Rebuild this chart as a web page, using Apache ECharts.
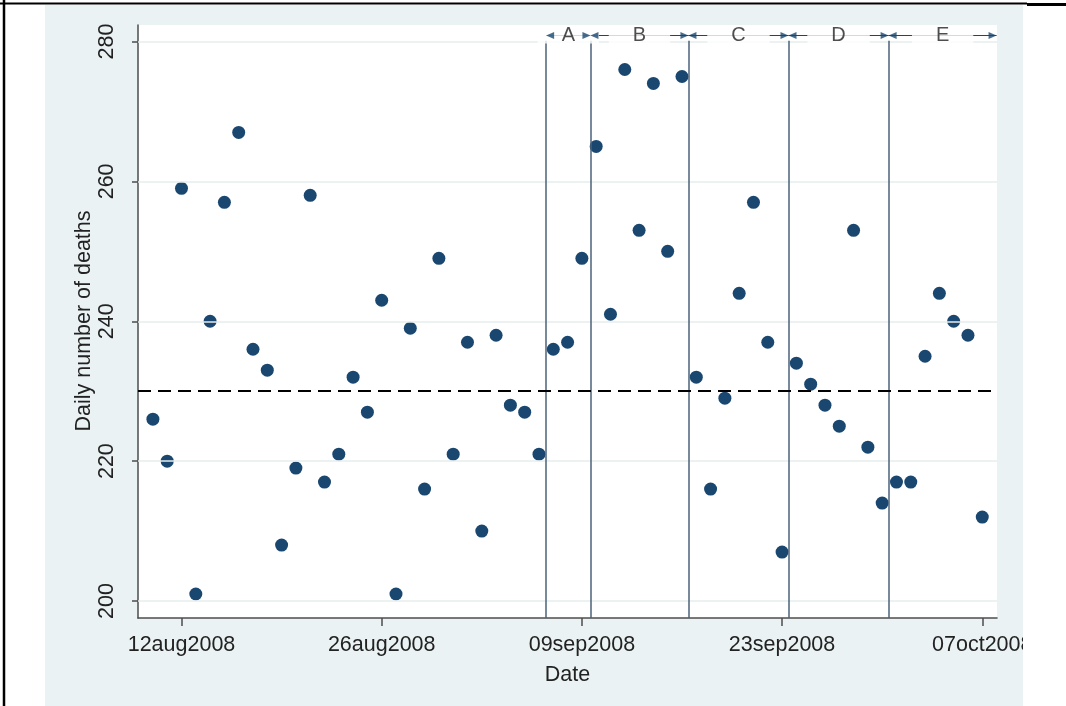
<!DOCTYPE html>
<html>
<head>
<meta charset="utf-8">
<script src="https://cdn.jsdelivr.net/npm/echarts@6/dist/echarts.min.js"></script>
<style>
  html, body { margin: 0; padding: 0; background: #fff; }
  #chart { width: 1066px; height: 706px; }
</style>
</head>
<body>
<div id="chart"></div>
<script>
// Daily number of deaths, one value per day from 10aug2008 to 07oct2008.
// x is measured in days from 12aug2008.
const firstDay = -2;
const deaths = [
  226, 220, 259, 201, 240, 257, 267, 236, 233, 208,
  219, 258, 217, 221, 232, 227, 243, 201, 239, 216,
  249, 221, 237, 210, 238, 228, 227, 221, 236, 237,
  249, 265, 241, 276, 253, 274, 250, 275, 232, 216,
  229, 244, 257, 237, 207, 234, 231, 228, 225, 253,
  222, 214, 217, 217, 235, 244, 240, 238, 212
];
const tickDays = [0, 14, 28, 42, 56];
const tickLabels = ['12aug2008', '26aug2008', '09sep2008', '23sep2008', '07oct2008'];
const yTicks = [200, 220, 240, 260, 280];
// Period boundaries (days from 12aug2008) and their names
const periodBreaks = [25.5, 28.6, 35.45, 42.45, 49.45, 57.0];
const periodNames = ['A', 'B', 'C', 'D', 'E'];
const referenceLevel = 230;

const FONT = "'Liberation Sans', Arial, Helvetica, sans-serif";
const NAVY = '#1a476f';
const xMin = -3.042, xMax = 57.03;
const yMin = 197.57, yMax = 282.36;
const bandY = 280.86;   // height of the period arrows
const lineTop = 280.1;  // top of the period boundary lines

const points = deaths.map((v, i) => [firstDay + i, v]);

const segments = periodNames.map((n, i) => [
  { coord: [periodBreaks[i], bandY] },
  { coord: [periodBreaks[i + 1], bandY] }
]);
const labelPoints = periodNames.map((n, i) => [
  (periodBreaks[i] + periodBreaks[i + 1]) / 2, bandY, n
]);
const arrowHeads = [];
periodNames.forEach((n, i) => {
  arrowHeads.push({ value: [periodBreaks[i], bandY], symbolRotate: 90, symbolOffset: [4, 0] });
  arrowHeads.push({ value: [periodBreaks[i + 1], bandY], symbolRotate: -90, symbolOffset: [-4, 0] });
});

const chart = echarts.init(document.getElementById('chart'), null, { renderer: 'canvas' });

chart.setOption({
  animation: false,
  backgroundColor: '#eaf2f3',
  textStyle: { fontFamily: FONT },
  grid: {
    left: 138, right: 69, top: 25, bottom: 88,
    show: true, backgroundColor: '#ffffff', borderWidth: 0
  },
  xAxis: {
    type: 'value',
    min: xMin, max: xMax,
    name: 'Date',
    nameLocation: 'middle',
    nameGap: 46,
    nameTextStyle: { fontSize: 21.5, color: '#222', fontFamily: FONT },
    axisLine: { show: true, onZero: false, lineStyle: { color: '#4d4d4d', width: 1.5 } },
    axisTick: { show: true, customValues: tickDays, length: 8, lineStyle: { color: '#4d4d4d', width: 1.5 } },
    axisLabel: {
      customValues: tickDays,
      formatter: v => tickLabels[tickDays.indexOf(v)] || '',
      fontSize: 21.5, color: '#222', margin: 16, fontFamily: FONT, hideOverlap: false
    },
    splitLine: { show: false }
  },
  yAxis: {
    type: 'value',
    min: yMin, max: yMax,
    axisLine: { show: true, onZero: false, lineStyle: { color: '#4d4d4d', width: 1.5 } },
    axisTick: { show: true, customValues: yTicks, length: 6, lineStyle: { color: '#4d4d4d', width: 1.5 } },
    axisLabel: {
      customValues: yTicks,
      rotate: 90,
      fontSize: 21.5, color: '#222', margin: 20, fontFamily: FONT
    },
    splitLine: { show: false }
  },
  graphic: [
    {
      type: 'text', x: 84, y: 321, rotation: Math.PI / 2, z: 50,
      style: {
        text: 'Daily number of deaths', fill: '#222',
        font: '21.5px ' + FONT, align: 'center', verticalAlign: 'middle'
      }
    },
    // white page around the graph area, with the page rules
    { type: 'rect', z: 100, shape: { x: 0, y: 0, width: 45, height: 706 }, style: { fill: '#fff' } },
    { type: 'rect', z: 100, shape: { x: 1023, y: 0, width: 43, height: 706 }, style: { fill: '#fff' } },
    { type: 'rect', z: 100, shape: { x: 0, y: 0, width: 1066, height: 5 }, style: { fill: '#fff' } },
    { type: 'line', z: 101, shape: { x1: 0, y1: 3.5, x2: 1027, y2: 3.5 }, style: { stroke: '#000', lineWidth: 2 } },
    { type: 'line', z: 101, shape: { x1: 1027, y1: 4.5, x2: 1066, y2: 4.5 }, style: { stroke: '#000', lineWidth: 3 } },
    { type: 'line', z: 101, shape: { x1: 4, y1: 0, x2: 4, y2: 706 }, style: { stroke: '#000', lineWidth: 2.5 } }
  ],
  series: [
    {
      // horizontal grid lines
      name: 'grid', type: 'scatter', data: [], z: 1, silent: true,
      markLine: {
        silent: true, symbol: 'none', label: { show: false }, animation: false,
        lineStyle: { color: '#e6eced', width: 1.5, type: 'solid' },
        emphasis: { disabled: true },
        data: yTicks.map(v => ({ yAxis: v }))
      }
    },
    {
      // period boundaries
      name: 'boundaries', type: 'scatter', data: [], z: 2, silent: true,
      markLine: {
        silent: true, symbol: 'none', label: { show: false }, animation: false,
        lineStyle: { color: '#4a6278', width: 1.5, type: 'solid' },
        emphasis: { disabled: true },
        data: periodBreaks.slice(0, 5).map(d => [{ coord: [d, yMin] }, { coord: [d, lineTop] }])
      }
    },
    {
      // reference level
      name: 'reference', type: 'scatter', data: [], z: 3, silent: true,
      markLine: {
        silent: true, symbol: 'none', label: { show: false }, animation: false,
        lineStyle: { color: '#000', width: 2.2, type: [13, 7] },
        emphasis: { disabled: true },
        data: [{ yAxis: referenceLevel }]
      }
    },
    {
      name: 'deaths', type: 'scatter', data: points, z: 4,
      symbol: 'circle', symbolSize: 13,
      itemStyle: { color: NAVY, opacity: 1 }
    },
    {
      // period extents
      name: 'periods', type: 'scatter', data: [], z: 5, silent: true, clip: false,
      markLine: {
        silent: true, symbol: 'none', label: { show: false }, animation: false,
        lineStyle: { color: NAVY, width: 1.2, type: 'solid' },
        emphasis: { disabled: true },
        data: segments
      }
    },
    {
      name: 'periodNames', type: 'scatter', data: labelPoints, z: 6, silent: true, clip: false,
      symbolSize: 0, itemStyle: { color: 'rgba(0,0,0,0)' },
      label: {
        show: true, position: 'inside', formatter: p => p.value[2],
        fontSize: 20, color: '#222', fontFamily: FONT,
        backgroundColor: '#fff', padding: [0, 24], lineHeight: 16
      }
    },
    {
      name: 'periodArrows', type: 'scatter', data: arrowHeads, z: 7, silent: true, clip: false,
      symbol: 'triangle', symbolSize: [7, 8],
      itemStyle: { color: NAVY }
    }
  ]
});
</script>
</body>
</html>
